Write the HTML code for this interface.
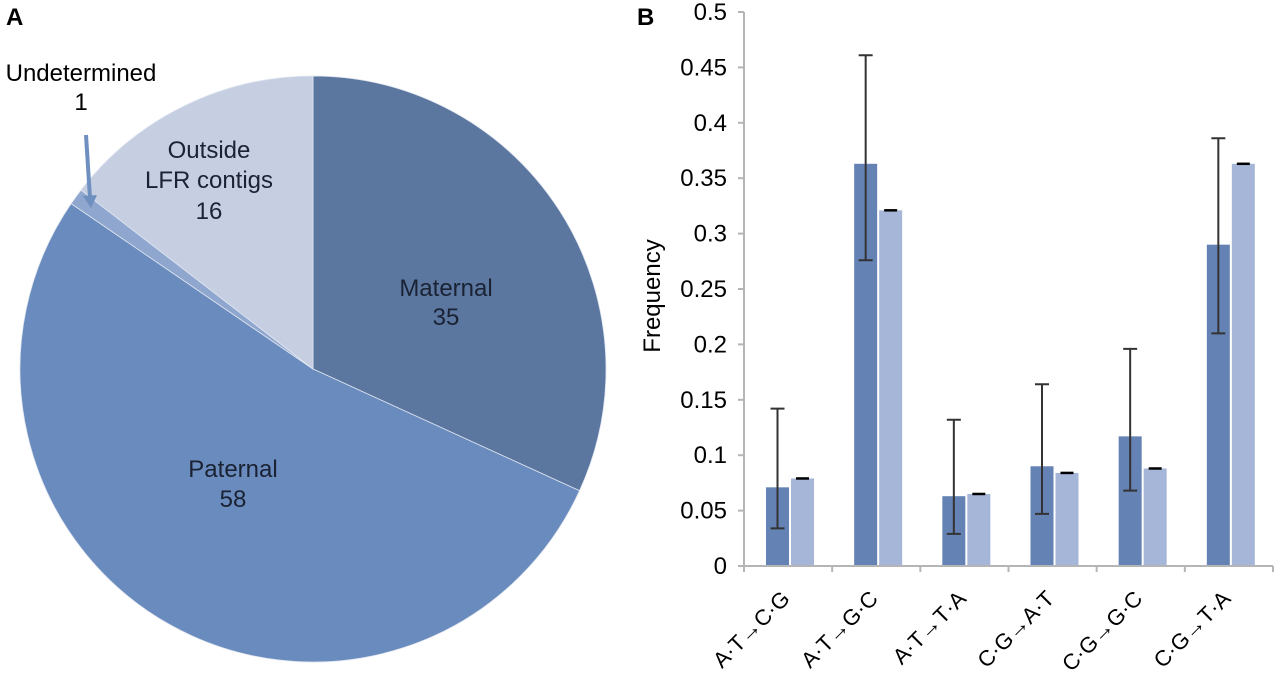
<!DOCTYPE html>
<html><head><meta charset="utf-8"><style>
html,body{margin:0;padding:0;background:#fff;}
svg{display:block;font-family:"Liberation Sans",Arial,sans-serif;}
</style></head><body>
<svg id="fig" width="1280" height="678" viewBox="0 0 1280 678">
<text x="6" y="25" font-size="24" font-weight="bold">A</text>
<text x="637" y="25" font-size="24" font-weight="bold">B</text>
<g id="pie"></g>
<g id="bar"></g>
</svg>
<script>
const NS="http://www.w3.org/2000/svg";
function mk(t,a,p){const e=document.createElementNS(NS,t);for(const k in a)e.setAttribute(k,a[k]);p.appendChild(e);return e;}

// ---- Pie data ----
const pieLabels=["Maternal","Paternal","Undetermined","Outside LFR contigs"];
const pieValues=[35,58,1,16];
const pieColors=["#5b77a0","#6a8bbd","#8fa6cf","#c6cee2"];
const pie=document.getElementById('pie');
const cx=313,cy=369,R=293;
const tot=pieValues.reduce((a,b)=>a+b,0);
let a0=0;
pieValues.forEach((v,i)=>{
  const a1=a0+v/tot*2*Math.PI;
  const x0=cx+R*Math.sin(a0),y0=cy-R*Math.cos(a0),x1=cx+R*Math.sin(a1),y1=cy-R*Math.cos(a1);
  const p=mk('path',{d:`M${cx},${cy}L${x0},${y0}A${R},${R} 0 ${a1-a0>Math.PI?1:0} 1 ${x1},${y1}Z`,fill:pieColors[i],stroke:"#dfe5f0","stroke-width":0.8},pie);
  
  
  a0=a1;
});
</script>
<script>
(function(){
const pie=document.getElementById('pie');
const txt=[["Maternal",446,296,"maternal-label"],["35",446,325,"maternal-value"],["Paternal",233,477,"paternal-label"],["58",233,507,"paternal-value"],
["Outside",209,158,"outside-label-line1"],["LFR contigs",209,188,"outside-label-line2"],["16",209,219,"outside-value"],
["Undetermined",81,81,"undetermined-label"],["1",81,110,"undetermined-value"]];
txt.forEach(t=>{const e=document.createElementNS(NS,'text');e.setAttribute('x',t[1]);e.setAttribute('y',t[2]);e.setAttribute('text-anchor','middle');e.setAttribute('font-size','24');e.setAttribute('fill',t[3].startsWith('undet')?'#000':'#1a2233');e.textContent=t[0];


pie.appendChild(e);});
const ar=mk('line',{x1:86,y1:135,x2:90,y2:198,stroke:"#6f8fc0","stroke-width":4},pie);


const ah=mk('polygon',{points:"83,196 97,195 91,208",fill:"#6f8fc0"},pie);


})();
</script>
<script>
// ---- Bar data ----
const categories=["A·T→C·G","A·T→G·C","A·T→T·A","C·G→A·T","C·G→G·C","C·G→T·A"];
const observed=[0.071,0.363,0.063,0.090,0.117,0.290];
const obsLow=[0.034,0.276,0.029,0.047,0.068,0.210];
const obsHigh=[0.142,0.461,0.132,0.164,0.196,0.386];
const expected=[0.079,0.321,0.065,0.084,0.088,0.363];
const yTicks=[0,0.05,0.1,0.15,0.2,0.25,0.3,0.35,0.4,0.45,0.5];
const yTickLabels=["0","0.05","0.1","0.15","0.2","0.25","0.3","0.35","0.4","0.45","0.5"];
(function(){
const g=document.getElementById('bar');
const X0=744,X1=1273,Y0=566,Y1=12,YMAX=0.5;
const y=v=>Y0-(v/YMAX)*(Y0-Y1);
const cw=(X1-X0)/categories.length;
const xs=i=>X0+i*cw;
const ya=mk('line',{x1:X0,y1:Y1,x2:X0,y2:Y0,stroke:"#b5b5b5","stroke-width":2},g);


yTicks.forEach((t,i)=>{
  const tk=mk('line',{x1:X0-6,y1:y(t),x2:X0,y2:y(t),stroke:"#b5b5b5","stroke-width":2},g);
  
  
  const l=mk('text',{x:727,y:y(t)+8,"text-anchor":"end","font-size":24,fill:"#000"},g);l.textContent=yTickLabels[i];
  
  
});
const yt=mk('text',{x:0,y:0,transform:"translate(660,296) rotate(-90)","text-anchor":"middle","font-size":24},g);yt.textContent="Frequency";


categories.forEach((c,i)=>{
  const s=xs(i);
  const d=mk('rect',{x:s+22,y:y(observed[i]),width:23,height:Y0-y(observed[i]),fill:"#6482b4"},g);
  
  
  const l=mk('rect',{x:s+47,y:y(expected[i]),width:23,height:Y0-y(expected[i]),fill:"#a5b6d8"},g);
  
  
  const ex=s+33.5;
  const eb=mk('path',{d:`M${ex},${y(obsLow[i])}V${y(obsHigh[i])}M${ex-7},${y(obsLow[i])}H${ex+7}M${ex-7},${y(obsHigh[i])}H${ex+7}`,stroke:"#333",fill:"none","stroke-width":2},g);
  
  
  const cap=mk('line',{x1:s+52,x2:s+65,y1:y(expected[i]),y2:y(expected[i]),stroke:"#000","stroke-width":2.5},g);
  
  
  const t=mk('text',{x:0,y:0,transform:`translate(${s+cw/2+3},${600}) rotate(-45)`,"text-anchor":"end","font-size":22},g);t.textContent=c;
  
  
});
const xa=mk('line',{x1:X0,y1:Y0,x2:X1,y2:Y0,stroke:"#b5b5b5","stroke-width":2},g);


for(let i=0;i<=categories.length;i++){
  const tk=mk('line',{x1:xs(i),y1:Y0,x2:xs(i),y2:Y0+6,stroke:"#b5b5b5","stroke-width":2},g);
  
  
}
})();
</script>
</body></html>
